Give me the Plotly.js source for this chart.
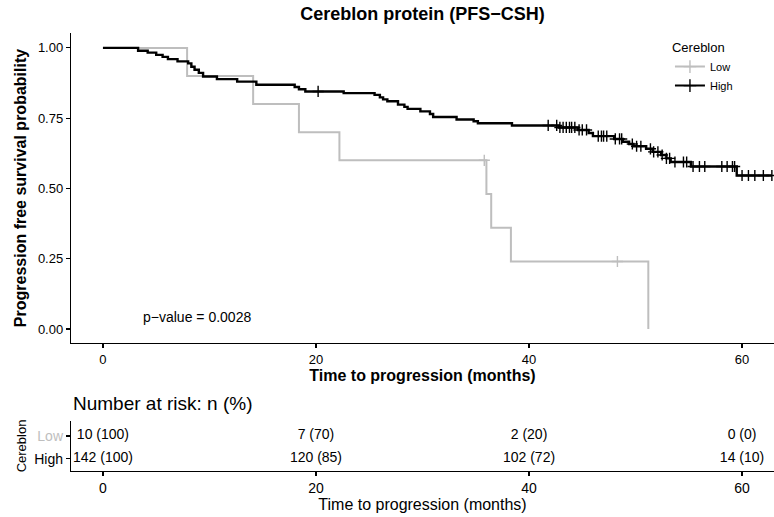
<!DOCTYPE html>
<html><head><meta charset="utf-8">
<script src="https://cdn.plot.ly/plotly-3.0.1.min.js"></script>
<style>html,body{margin:0;padding:0;background:#fff}#chart{width:774px;height:517px}</style>
</head><body><div id="chart"></div>
<script>
// Kaplan-Meier step data
const groups = ['Low', 'High'];
const groupColors = ['#BEBEBE', '#000000'];

const lowTime = [0, 7.9, 14.1, 18.4, 22.2, 36.0, 36.45, 38.3, 51.2];
const lowSurv = [1.0, 0.9, 0.8, 0.7, 0.6, 0.48, 0.36, 0.24, 0.0];
const lowCensorTime = [35.8, 48.3];

const highTime = [0, 3.3, 4.2, 5.0, 5.6, 6.1, 7.0, 8.0, 8.3, 8.6, 9.0, 9.4, 10.7, 12.6, 14.4, 18.0, 18.4, 19.0, 22.6, 25.5, 26.0, 26.3, 26.7, 27.7, 28.3, 28.6, 29.8, 30.7, 31.0, 33.2, 34.8, 35.2, 38.4, 42.8, 44.6, 45.6, 46.0, 48.0, 48.8, 49.4, 49.8, 51.0, 51.6, 52.4, 52.9, 53.3, 55.2, 59.5];
const highSurv = [1.0, 0.99, 0.983, 0.975, 0.968, 0.96, 0.952, 0.945, 0.933, 0.922, 0.911, 0.898, 0.889, 0.88, 0.869, 0.861, 0.853, 0.845, 0.839, 0.833, 0.824, 0.817, 0.81, 0.798, 0.79, 0.783, 0.774, 0.765, 0.754, 0.745, 0.739, 0.732, 0.724, 0.717, 0.708, 0.697, 0.686, 0.676, 0.666, 0.658, 0.65, 0.641, 0.63, 0.619, 0.607, 0.594, 0.578, 0.546];
const highCensorTime = [20.2, 41.8, 42.6, 42.9, 43.2, 43.5, 43.8, 44.0, 44.3, 44.7, 45.0, 45.4, 46.5, 46.8, 47.0, 47.3, 48.1, 48.5, 48.7, 49.7, 50.1, 50.5, 51.4, 51.7, 52.1, 52.5, 52.9, 53.2, 53.7, 54.5, 54.8, 55.4, 56.0, 56.5, 58.1, 58.6, 59.1, 59.3, 60.0, 60.6, 61.2, 62.0, 62.8];

const riskTimes = [0, 20, 40, 60];
const riskLow = ['10 (100)', '7 (70)', '2 (20)', '0 (0)'];
const riskHigh = ['142 (100)', '120 (85)', '102 (72)', '14 (10)'];

const xTicks = [0, 20, 40, 60];
const yTicks = [0, 0.25, 0.5, 0.75, 1.0];
const yTickText = ['0.00', '0.25', '0.50', '0.75', '1.00'];
const pValueText = 'p\u2212value = 0.0028';

function survAt(times, surv, t) {
  let s = surv[0];
  for (let i = 0; i < times.length; i++) if (times[i] <= t) s = surv[i];
  return s;
}

const FONT = 'Liberation Sans, Arial, sans-serif';

function curve(times, surv, censor, color, width, extendTo) {
  const x = times.slice(), y = surv.slice();
  if (extendTo !== null) { x.push(extendTo); y.push(surv[surv.length - 1]); }
  return [{
    x: x, y: y, mode: 'lines', line: {shape: 'hv', color: color, width: width},
    showlegend: false, hoverinfo: 'skip', xaxis: 'x', yaxis: 'y'
  }, {
    x: censor, y: censor.map(t => survAt(times, surv, t)), mode: 'markers',
    marker: {symbol: 'cross-thin', size: 8, color: color, line: {color: color, width: 1.4}},
    showlegend: false, hoverinfo: 'skip', xaxis: 'x', yaxis: 'y'
  }];
}

const traces = [];
traces.push(...curve(lowTime, lowSurv, lowCensorTime, groupColors[0], 2, null));
traces.push(...curve(highTime, highSurv, highCensorTime, groupColors[1], 2.4, Math.max(...highCensorTime)));

// legend entries
groups.forEach((g, i) => traces.push({
  x: [null], y: [null], name: g, mode: 'lines+markers',
  line: {color: groupColors[i], width: 2},
  marker: {symbol: 'cross-thin', size: 9, color: groupColors[i], line: {color: groupColors[i], width: 1.4}},
  xaxis: 'x', yaxis: 'y'
}));

// risk table
traces.push({
  x: riskTimes, y: riskTimes.map(() => 2), text: riskLow, mode: 'text',
  textfont: {family: FONT, size: 14, color: '#000'}, showlegend: false, hoverinfo: 'skip',
  xaxis: 'x2', yaxis: 'y2'
});
traces.push({
  x: riskTimes, y: riskTimes.map(() => 1), text: riskHigh, mode: 'text',
  textfont: {family: FONT, size: 14, color: '#000'}, showlegend: false, hoverinfo: 'skip',
  xaxis: 'x2', yaxis: 'y2'
});

const axisCommon = {
  showline: true, linecolor: '#000', linewidth: 1.2, ticks: 'outside', ticklen: 4,
  tickcolor: '#000', tickwidth: 1.1, showgrid: false, zeroline: false,
  tickfont: {family: FONT, size: 13, color: '#000'}
};

const layout = {
  width: 774, height: 517,
  margin: {l: 71, r: 0, t: 33, b: 46},
  paper_bgcolor: '#fff', plot_bgcolor: '#fff',
  font: {family: FONT, color: '#000'},
  title: {text: '<b>Cereblon protein (PFS\u2212CSH)</b>', font: {family: FONT, size: 18, color: '#000'},
          x: 0.5, xref: 'paper', y: 0.973, yref: 'container', yanchor: 'middle'},
  xaxis: Object.assign({}, axisCommon, {
    domain: [0, 1], range: [-3, 63], tickvals: xTicks, anchor: 'y',
    title: {text: '<b>Time to progression (months)</b>', font: {family: FONT, size: 16, color: '#000'}, standoff: 1}
  }),
  yaxis: Object.assign({}, axisCommon, {
    domain: [0.2922, 1], range: [-0.05, 1.053], tickvals: yTicks, ticktext: yTickText, anchor: 'x',
    title: {text: '<b>Progression free survival probability</b>', font: {family: FONT, size: 16, color: '#000'}, standoff: 7}
  }),
  xaxis2: Object.assign({}, axisCommon, {
    domain: [0, 1], range: [-3, 63], tickvals: xTicks, anchor: 'y2',
    tickfont: {family: FONT, size: 14, color: '#000'},
    title: {text: 'Time to progression (months)', font: {family: FONT, size: 16, color: '#000'}, standoff: 1}
  }),
  yaxis2: Object.assign({}, axisCommon, {
    domain: [0, 0.1142], range: [0.46, 2.66], tickvals: [2, 1],
    ticktext: ['<span style="color:#BEBEBE">Low</span>', 'High'], anchor: 'x2',
    tickfont: {family: FONT, size: 14, color: '#000'},
    title: {text: 'Cereblon', font: {family: FONT, size: 13, color: '#000'}, standoff: 4}
  }),
  legend: {
    x: 0.852, y: 0.995, xanchor: 'left', yanchor: 'top', bgcolor: 'rgba(0,0,0,0)',
    title: {text: 'Cereblon', font: {family: FONT, size: 13, color: '#000'}},
    font: {family: FONT, size: 11, color: '#000'}, tracegroupgap: 2
  },
  annotations: [
    {text: pValueText, x: 3.6, y: 0.043, xref: 'x', yref: 'y', xanchor: 'left', yanchor: 'middle',
     showarrow: false, font: {family: FONT, size: 14, color: '#000'}},
    {text: 'Number at risk: n (%)', x: 0, y: (471 - 403) / 438, xref: 'paper', yref: 'paper',
     xanchor: 'left', yanchor: 'middle', showarrow: false, font: {family: FONT, size: 19, color: '#000'}}
  ]
};

Plotly.newPlot('chart', traces, layout, {staticPlot: true, displayModeBar: false});
</script></body></html>
